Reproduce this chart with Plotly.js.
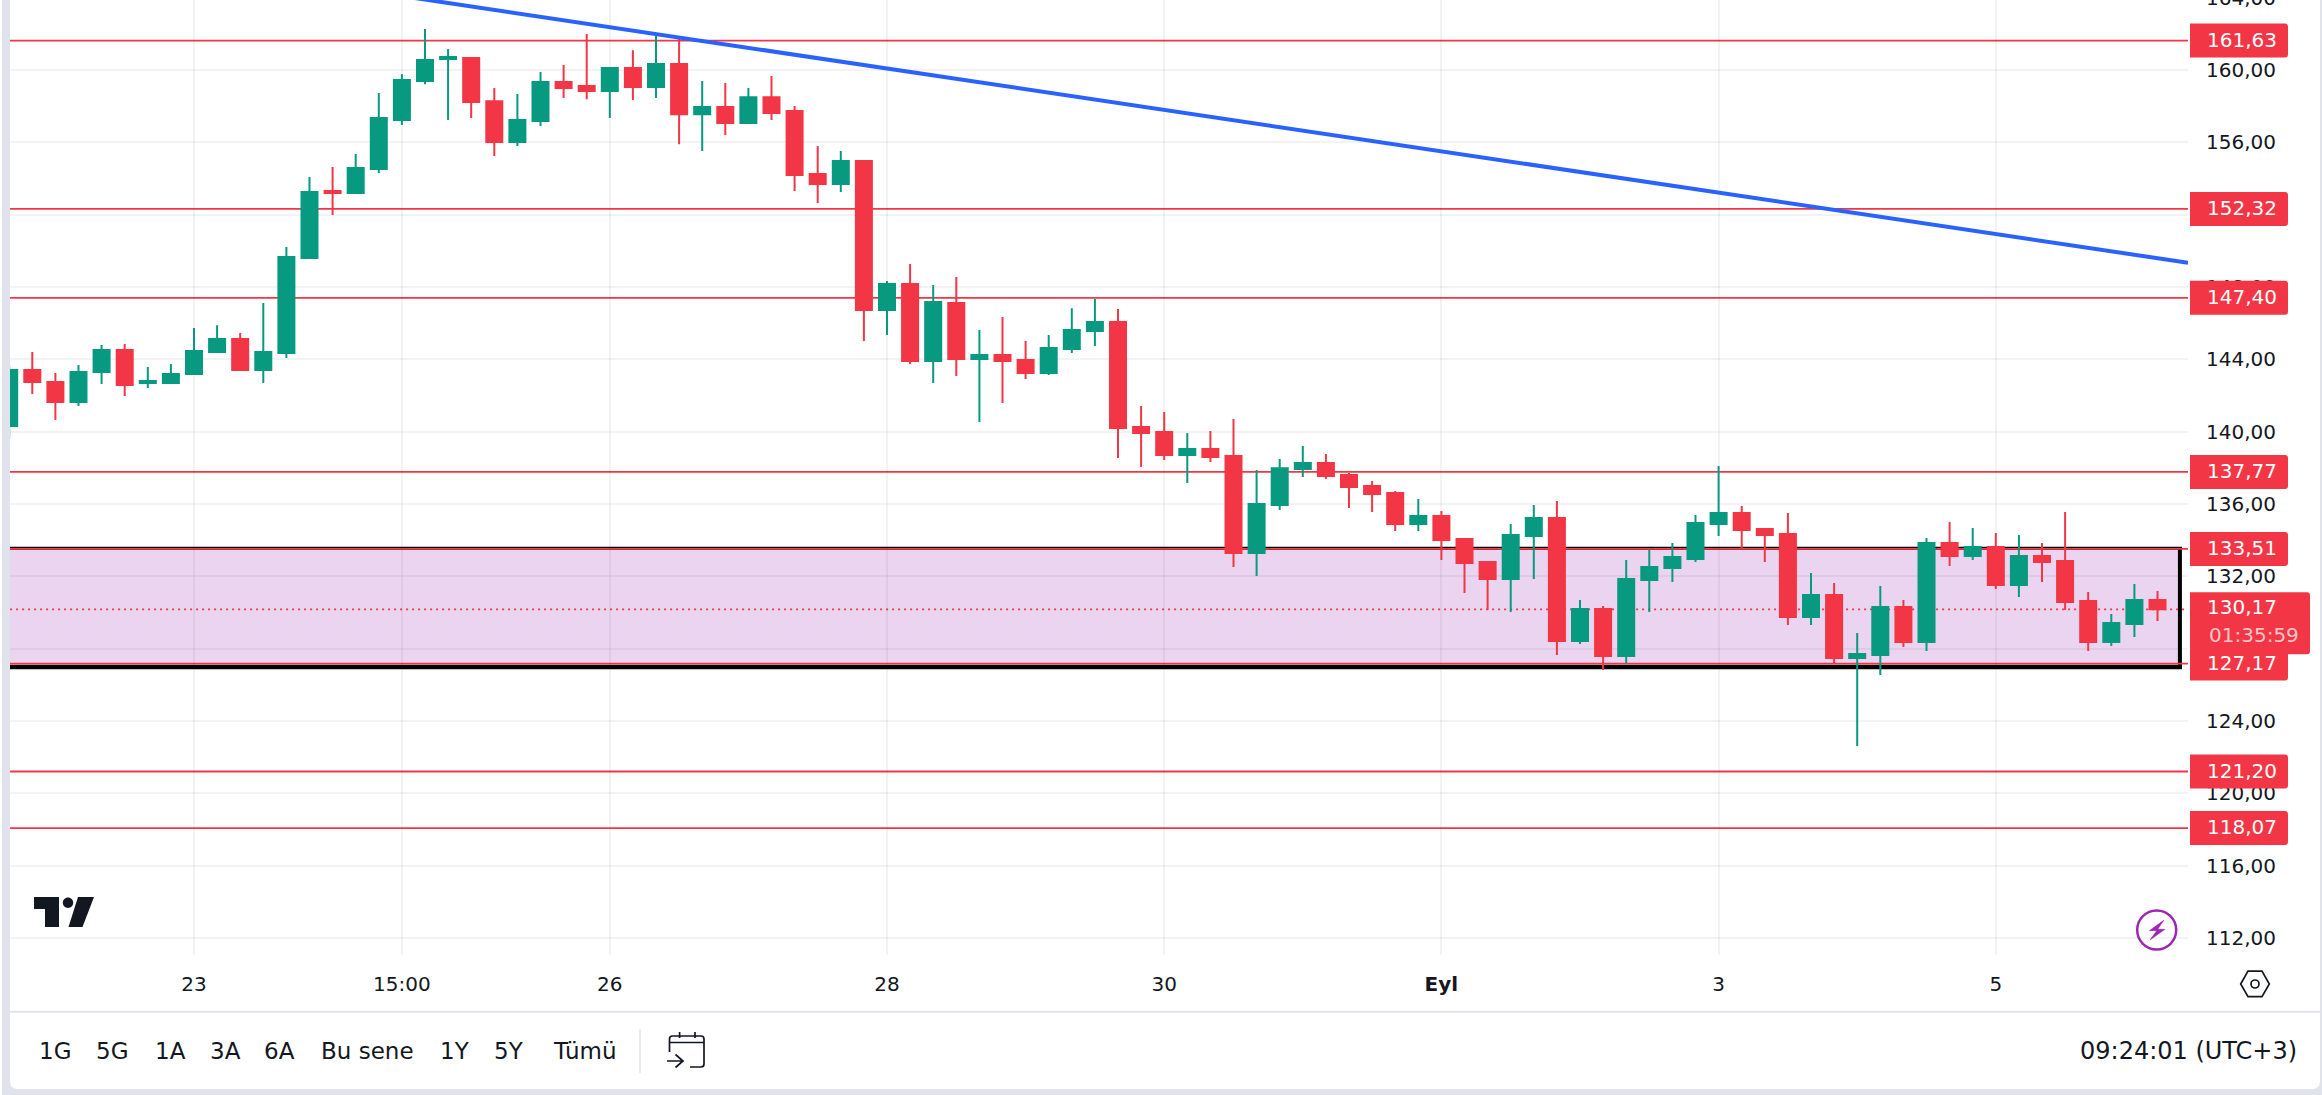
<!DOCTYPE html>
<html>
<head>
<meta charset="utf-8">
<script src="https://cdn.plot.ly/plotly-3.0.1.min.js"></script>
<style>
    html, body { margin: 0; padding: 0; width: 2322px; height: 1095px; overflow: hidden; background: #ffffff; }
    #frame { position: absolute; left: 2px; top: 0; width: 2320px; height: 1095px; background: #e0e3eb; }
    #card { position: absolute; left: 10px; top: 0; width: 2310px; height: 1089px; background: #ffffff; border-radius: 0 0 7px 7px; }
    /* chart starts 20px above the window so the 164,00 tick is cut off like the reference */
    #graph { position: absolute; left: 0; top: -20px; width: 2322px; height: 1115px; }
</style>
</head>
<body>
<div id="frame"></div>
<div id="card"></div>
<div id="graph"></div>
<script>
// candles, one per 4h bar
var open = [140.31,143.41,142.74,141.64,143.30,144.51,142.69,142.69,143.18,144.40,145.12,143.41,144.35,149.60,153.31,153.20,154.52,157.23,159.39,160.61,
    160.66,158.28,156.02,157.18,159.34,159.12,158.84,160.11,159.06,160.33,157.56,157.95,157.07,158.50,157.73,154.25,153.69,154.97,146.72,148.16,
    143.90,147.11,144.01,144.24,143.96,143.24,144.57,145.56,146.06,140.25,139.98,138.70,139.04,138.65,133.28,135.94,137.93,138.26,137.60,136.99,
    136.60,134.89,135.33,134.06,132.79,131.85,134.22,135.22,128.42,130.19,127.59,131.79,132.45,132.95,134.89,135.50,134.61,134.34,129.75,130.96,
    127.48,127.64,130.30,128.36,133.84,133.12,133.62,131.51,133.12,132.84,130.63,128.36,129.36,130.68];
var high = [143.63,144.40,143.24,143.68,144.79,144.84,143.57,143.74,145.73,145.89,145.45,147.11,150.21,154.08,154.63,155.35,158.73,159.78,162.27,161.16,
    160.72,159.00,158.67,159.89,160.28,161.99,160.11,161.10,162.04,161.71,159.39,159.28,159.00,159.67,158.01,155.80,155.52,155.02,148.33,149.27,
    148.11,148.55,145.62,146.34,145.01,145.34,146.83,147.33,146.78,141.42,141.08,139.92,140.03,140.70,137.87,138.48,139.20,138.76,137.71,137.27,
    136.71,136.27,135.61,134.06,132.84,134.89,135.94,136.16,130.68,130.35,132.90,133.45,133.84,135.39,138.10,135.88,134.61,135.50,132.18,131.63,
    128.86,131.46,130.68,134.11,135.00,134.67,134.39,134.28,133.84,135.55,131.13,129.91,131.57,131.18];
var low = [139.65,142.08,140.64,141.42,142.63,141.97,142.41,142.69,143.18,144.35,143.41,142.69,144.07,149.60,151.98,153.14,154.30,156.96,159.22,157.23,
    157.34,155.24,155.80,156.90,158.45,158.39,157.34,158.34,158.45,155.90,155.52,156.40,157.01,157.23,153.31,152.64,153.25,145.01,145.34,143.74,
    142.69,143.07,140.53,141.58,142.91,143.13,144.35,144.73,138.54,138.04,138.43,137.16,138.32,132.51,132.01,135.66,137.49,137.38,135.77,135.55,
    134.50,134.50,132.90,131.07,130.13,130.02,131.85,127.64,128.25,126.81,127.18,130.02,131.68,132.79,134.22,133.56,132.79,129.30,129.30,127.15,
    122.61,126.54,128.09,127.87,132.56,132.90,131.29,130.85,131.68,130.13,127.87,128.14,128.64,129.52];
var close = [143.41,142.74,141.64,143.30,144.51,142.58,142.80,143.18,144.46,145.12,143.41,144.40,149.66,153.25,153.20,154.58,157.34,159.45,160.55,160.72,
    158.23,156.02,157.23,159.34,159.00,158.84,160.11,159.06,160.33,157.56,157.95,157.07,158.50,157.62,154.19,153.69,154.97,146.72,148.16,143.90,
    147.17,144.01,144.24,143.90,143.24,144.62,145.62,146.06,140.20,139.92,138.70,139.04,138.59,133.28,135.99,137.98,138.26,137.54,136.93,136.55,
    134.89,135.33,134.00,132.73,131.85,134.28,135.22,128.42,130.19,127.59,131.85,132.51,133.06,134.94,135.50,134.56,134.28,129.75,130.96,127.48,
    127.70,130.30,128.36,133.84,133.12,133.62,131.51,133.12,132.79,130.57,128.36,129.41,130.68,130.17];

// support / resistance levels
var levels = [161.63, 152.32, 147.40, 137.77, 133.51, 127.17, 121.20, 118.07];
var levelLabels = ["161,63", "152,32", "147,40", "137,77", "133,51", "127,17", "121,20", "118,07"];
var lastPrice = 130.17;
var lastPriceLabel = "130,17";
var countdown = "01:35:59";

// shaded zone
var zoneTop = 133.51;
var zoneBottom = 127.17;

// blue trend line
var trendX = [17, 94.32];
var trendY = [164.09, 149.34];

// axes
var priceTicks = [112, 116, 120, 124, 128, 132, 136, 140, 144, 148, 152, 156, 160, 164];
var timeTicks = [8, 17, 26, 38, 50, 62, 74, 86];
var timeLabels = ["23", "15:00", "26", "28", "30", "<b>Eyl</b>", "3", "5"];

// bottom toolbar
var rangeButtons = ["1G", "5G", "1A", "3A", "6A", "Bu sene", "1Y", "5Y", "Tümü"];
var rangeButtonX = [55, 112, 170, 225, 279, 367, 455, 509, 584];
var clockText = "09:24:01 (UTC+3)";

var RED = "#f23645", GREEN = "#089981", INK = "#131722", BORDER = "#e0e3eb";
var FONT = "DejaVu Sans";

// plot area on screen
var plotLeft = 10, plotRight = 2188, plotTop = -20, plotBottom = 955;

function paperX(px) { return (px - plotLeft) / (plotRight - plotLeft); }
function paperY(py) { return (plotBottom - py) / (plotBottom - plotTop); }

// decoration drawn in screen pixels: every "x,y" pair of the path is moved to pixel mode
function icon(d, line, fill, width) {
    return {
        type: "path", layer: "above", xref: "paper", yref: "paper",
        xsizemode: "pixel", ysizemode: "pixel", xanchor: 0, yanchor: 1,
        path: d.replace(/(-?[\d.]+),(-?[\d.]+)/g, function (m, a, b) {
            return (a - plotLeft) + "," + (plotTop - b);
        }),
        line: {color: line || "rgba(0,0,0,0)", width: width || 0},
        fillcolor: fill || "rgba(0,0,0,0)"
    };
}

// circle as four bezier pieces, arcs are not available in shape paths
function circle(cx, cy, r) {
    var k = r * 0.5523;
    return "M" + (cx - r) + "," + cy +
        "C" + (cx - r) + "," + (cy - k) + " " + (cx - k) + "," + (cy - r) + " " + cx + "," + (cy - r) +
        "C" + (cx + k) + "," + (cy - r) + " " + (cx + r) + "," + (cy - k) + " " + (cx + r) + "," + cy +
        "C" + (cx + r) + "," + (cy + k) + " " + (cx + k) + "," + (cy + r) + " " + cx + "," + (cy + r) +
        "C" + (cx - k) + "," + (cy + r) + " " + (cx - r) + "," + (cy + k) + " " + (cx - r) + "," + cy + "Z";
}

// price label box, square on the left and rounded on the right
function badge(value, width, up, down) {
    var r = 3, x0 = 2, x1 = x0 + width;
    return {
        type: "path", layer: "above", xref: "paper", yref: "y",
        xsizemode: "pixel", ysizemode: "pixel", xanchor: 1, yanchor: value,
        path: "M" + x0 + "," + up + "L" + (x1 - r) + "," + up + "Q" + x1 + "," + up + " " + x1 + "," + (up - r) +
            "L" + x1 + "," + (-down + r) + "Q" + x1 + "," + (-down) + " " + (x1 - r) + "," + (-down) +
            "L" + x0 + "," + (-down) + "Z",
        line: {width: 0},
        fillcolor: RED
    };
}

function label(text, px, py, size, color, anchor) {
    return {
        text: text, xref: "paper", yref: "paper", x: paperX(px), y: paperY(py),
        showarrow: false, xanchor: anchor || "center", yanchor: "middle",
        font: {family: FONT, size: size, color: color || INK}
    };
}

function drawGraph() {
    var candles = {
        type: "candlestick",
        x: open.map(function (v, i) { return i; }),
        open: open, high: high, low: low, close: close,
        increasing: {line: {color: GREEN, width: 2}, fillcolor: GREEN},
        decreasing: {line: {color: RED, width: 2}, fillcolor: RED},
        whiskerwidth: 0,
        hoverinfo: "skip",
        showlegend: false
    };
    var trend = {
        type: "scatter", mode: "lines", x: trendX, y: trendY,
        line: {color: "#2962ff", width: 4},
        hoverinfo: "skip", showlegend: false
    };

    var shapes = [];
    // zone fill and its hand drawn black frame
    shapes.push({type: "rect", layer: "below", xref: "x", yref: "y", x0: -1, x1: 93.97, y0: zoneBottom, y1: zoneTop,
        fillcolor: "rgba(156,39,176,0.2)", line: {width: 0}});
    shapes.push({type: "line", layer: "below", xref: "x", yref: "y", x0: -1, x1: 94.06, y0: zoneTop + 0.04, y1: zoneTop + 0.04,
        line: {color: "#000000", width: 3}});
    shapes.push({type: "line", layer: "below", xref: "x", yref: "y", x0: -1, x1: 94.06, y0: zoneBottom - 0.19, y1: zoneBottom - 0.19,
        line: {color: "#000000", width: 4.5}});
    shapes.push({type: "line", layer: "below", xref: "x", yref: "y", x0: 93.97, x1: 93.97, y0: zoneBottom - 0.3, y1: zoneTop + 0.1,
        line: {color: "#000000", width: 4}});
    levels.forEach(function (v) {
        shapes.push({type: "line", layer: "below", xref: "x", yref: "y", x0: -1, x1: 95, y0: v, y1: v,
            line: {color: RED, width: 1.8}});
    });
    shapes.push({type: "line", layer: "below", xref: "x", yref: "y", x0: -1, x1: 94.2, y0: lastPrice, y1: lastPrice,
        line: {color: RED, width: 1.6, dash: "2px,4px"}});

    // price badges
    levels.forEach(function (v) { shapes.push(badge(v, 98, 17, 17)); });
    shapes.push(badge(lastPrice, 120, 17, 45));

    // toolbar divider and separator
    shapes.push(icon("M10,1011.7L2320,1011.7", BORDER, null, 2));
    shapes.push(icon("M640,1029L640,1073", BORDER, null, 1.5));
    // calendar icon
    shapes.push(icon("M669.5,1052L669.5,1039Q669.5,1036 672.5,1036L701,1036Q704,1036 704,1039L704,1064Q704,1067 701,1067L690,1067", INK, null, 1.7));
    shapes.push(icon("M669.5,1042.5L704,1042.5", INK, null, 1.7));
    shapes.push(icon("M679.6,1032L679.6,1038", INK, null, 1.7));
    shapes.push(icon("M695,1032L695,1038", INK, null, 1.7));
    shapes.push(icon("M667,1061L683,1061M675.5,1054.5L683,1061L675.5,1067.5", INK, null, 1.7));
    // TradingView mark
    shapes.push(icon("M34,897L59,897L59,927L45,927L45,909L34,909Z", INK, INK));
    shapes.push(icon(circle(68, 902.7, 5.2), null, INK));
    shapes.push(icon("M78,897L94,897L82.5,927L68.5,927Z", INK, INK));
    // lightning badge
    shapes.push(icon(circle(2156.7, 930, 19.5), "#9c27b0", "rgba(255,255,255,0)", 2.5));
    shapes.push(icon("M2164,920L2149.3,930.7L2156.7,930.7L2150,940L2165,929.3L2157.7,929.3Z", "#9c27b0", "#9c27b0", 0.5));
    // scale settings
    shapes.push(icon("M2240.7,984L2248,971.2L2262,971.2L2269.3,984L2262,996.7L2248,996.7Z", INK, null, 1.7));
    shapes.push(icon(circle(2255, 984, 4), INK, null, 1.7));

    var annotations = [];
    levels.forEach(function (v, i) {
        annotations.push({
            text: levelLabels[i], xref: "paper", yref: "y", x: paperX(2242), y: v,
            showarrow: false, xanchor: "center", yanchor: "middle", yshift: 1,
            font: {family: FONT, size: 20, color: "#ffffff"}
        });
    });
    annotations.push({
        text: lastPriceLabel, xref: "paper", yref: "y", x: paperX(2242), y: lastPrice,
        showarrow: false, xanchor: "center", yanchor: "middle", yshift: 2,
        font: {family: FONT, size: 20, color: "#ffffff"}
    });
    annotations.push(label(countdown, 2207, 635, 20, "rgba(255,255,255,0.72)", "left"));
    rangeButtons.forEach(function (t, i) {
        annotations.push(label(t, rangeButtonX[i], 1051, 23));
    });
    annotations.push(label(clockText, 2299, 1050.5, 24, INK, "right"));

    var layout = {
        width: 2322,
        height: 1115,
        margin: {l: plotLeft, r: 2322 - plotRight, t: 0, b: 1115 - 975, pad: 0},
        paper_bgcolor: "rgba(0,0,0,0)",
        plot_bgcolor: "rgba(0,0,0,0)",
        separators: ",.",
        showlegend: false,
        hovermode: false,
        boxgap: 0.307,
        boxgroupgap: 0,
        xaxis: {
            type: "linear",
            range: [0.035, 94.32],
            rangeslider: {visible: false},
            tickmode: "array", tickvals: timeTicks, ticktext: timeLabels,
            tickangle: 0,
            ticks: "", showline: false, zeroline: false,
            showgrid: true, gridcolor: "rgba(42,46,57,0.06)", gridwidth: 2,
            ticklabelstandoff: 15,
            tickfont: {family: FONT, size: 20, color: INK}
        },
        yaxis: {
            side: "right",
            range: [111.05, 164.98],
            tickmode: "array", tickvals: priceTicks,
            tickformat: ".2f",
            ticks: "", showline: false, zeroline: false,
            showgrid: true, gridcolor: "rgba(42,46,57,0.06)", gridwidth: 2,
            ticklabelstandoff: 17,
            tickfont: {family: FONT, size: 20, color: INK}
        },
        shapes: shapes,
        annotations: annotations
    };

    Plotly.newPlot("graph", [candles, trend], layout, {displayModeBar: false, staticPlot: true});
}

drawGraph();
</script>
</body>
</html>
